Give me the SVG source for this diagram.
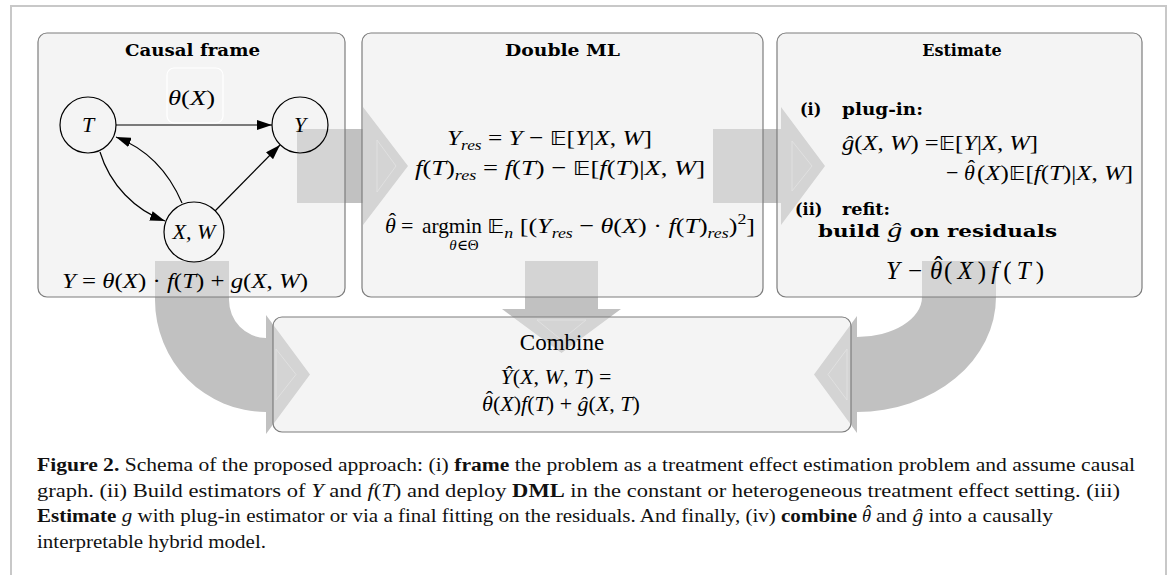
<svg xmlns="http://www.w3.org/2000/svg" width="1170" height="575" viewBox="0 0 1170 575">
<style>
.m{font-family:"Liberation Serif","DejaVu Serif",serif;font-size:22px;fill:#000}
.i{font-style:italic}
.sub{font-size:15px}
.bb{font-family:"DejaVu Sans","DejaVu Serif",sans-serif;font-size:20px}
.hat{font-family:"Liberation Serif","DejaVu Serif",serif;font-size:22px;fill:#000;text-anchor:middle}
.t{font-family:"DejaVu Serif","Liberation Serif",serif;font-weight:bold;font-size:16px;fill:#000}
.cap{font-family:"Liberation Serif","DejaVu Serif",serif;font-size:18.5px;fill:#111}
.b{font-weight:bold}
.big{font-size:25px}
.box{fill:#e8e8e8;fill-opacity:0.48;stroke:#7d7d7d;stroke-width:1.2}
.band{fill:#c1c1c1}
.inner{fill:none;stroke:#dadada;stroke-width:1}
.node{fill:none;stroke:#000;stroke-width:1.2}
.edge{fill:none;stroke:#000;stroke-width:1.2}
</style>
<defs>
<marker id="ah" markerWidth="15" markerHeight="10" refX="15" refY="5" orient="auto" markerUnits="userSpaceOnUse">
<path d="M0,0 L15,5 L0,10 Z" fill="#000"/>
</marker>
</defs>
<rect width="1170" height="575" fill="#fff"/>
<path d="M11,575 V6 H1166 V575" fill="none" stroke="#c8c8c8" stroke-width="2"/>

<g id="flow-arrows">
<path class="band" d="M297,129 H363 V107 L408,166 L363,225 V203 H297 Z"/>
<path class="band" d="M713,129 H781 V107 L825,166 L781,225 V203 H713 Z"/>
<path class="band" d="M525,261 V309 H502 L561.5,353 L621,309 H598 V261 Z"/>
<path class="band" d="M155,261 V300 A111,112 0 0 0 266,412 V434 L310,374.5 L266,315 V338 A37,38 0 0 1 229,300 V261 Z"/>
<path class="band" d="M996,261 V297 A139,115 0 0 1 857,412 V433 L814,374.5 L857,316 V337 A65,40 0 0 0 922,297 V261 Z"/>
<path class="inner" d="M377,140 L396,166 L377,192 Z"/>
<path class="inner" d="M792,141 L812,166 L792,191 Z"/>
<path class="inner" d="M537,320 L586,320 L561.5,340 Z"/>
<path class="inner" d="M276,349 L296,374.5 L276,400 Z"/>
<path class="inner" d="M847,349 L828,374.5 L847,400 Z"/>
</g>

<g id="causal-frame">
<rect class="box" x="38" y="33" width="307" height="264" rx="9"/>
<text class="t" x="125" y="56" textLength="135" lengthAdjust="spacingAndGlyphs">Causal frame</text>
<rect x="167" y="68" width="56" height="55" rx="7" fill="none" stroke="#ffffff" stroke-width="1.2"/>
<text class="m" x="168" y="105" textLength="47" lengthAdjust="spacingAndGlyphs"><tspan class="i">θ</tspan>(<tspan class="i">X</tspan>)</text>
<text class="m" x="62" y="288" textLength="246" lengthAdjust="spacingAndGlyphs"><tspan class="i">Y</tspan> = <tspan class="i">θ</tspan>(<tspan class="i">X</tspan>) · <tspan class="i">f</tspan>(<tspan class="i">T</tspan>) + <tspan class="i">g</tspan>(<tspan class="i">X</tspan>, <tspan class="i">W</tspan>)</text>
</g>

<g id="node-T">
<circle class="node" cx="88" cy="125" r="28"/>
<text class="m i" x="88" y="132" text-anchor="middle">T</text>
</g>
<g id="node-Y">
<circle class="node" cx="300" cy="125" r="28"/>
<text class="m i" x="300" y="132" text-anchor="middle">Y</text>
</g>
<g id="node-XW">
<circle class="node" cx="194" cy="232" r="30"/>
<text class="m i" x="194" y="239" text-anchor="middle">X, W</text>
</g>

<g id="edges">
<line class="edge" x1="116" y1="125" x2="272" y2="125" marker-end="url(#ah)"/>
<line class="edge" x1="215" y1="211" x2="280" y2="145" marker-end="url(#ah)"/>
<path class="edge" d="M100,152 C110,185 135,210 165,221" marker-end="url(#ah)"/>
<path class="edge" d="M182,203 C170,175 150,150 116,137" marker-end="url(#ah)"/>
</g>

<g id="double-ml">
<rect class="box" x="362" y="33" width="401" height="264" rx="9"/>
<text class="t" x="505" y="56" textLength="115" lengthAdjust="spacingAndGlyphs">Double ML</text>
<text class="m" x="447" y="145" textLength="205" lengthAdjust="spacingAndGlyphs"><tspan class="i">Y</tspan><tspan class="i sub" dy="5">res</tspan><tspan dy="-5"> = </tspan><tspan class="i">Y</tspan> − <tspan class="bb">𝔼</tspan>[<tspan class="i">Y</tspan>|<tspan class="i">X</tspan>, <tspan class="i">W</tspan>]</text>
<text class="m" x="415" y="175" textLength="290" lengthAdjust="spacingAndGlyphs"><tspan class="i">f</tspan>(<tspan class="i">T</tspan>)<tspan class="i sub" dy="5">res</tspan><tspan dy="-5"> = </tspan><tspan class="i">f</tspan>(<tspan class="i">T</tspan>) − <tspan class="bb">𝔼</tspan>[<tspan class="i">f</tspan>(<tspan class="i">T</tspan>)|<tspan class="i">X</tspan>, <tspan class="i">W</tspan>]</text>
<text class="m i" x="385" y="233">θ</text>
<text class="hat" x="392.5" y="228">ˆ</text>
<text class="m" x="401" y="233">=</text>
<text class="m" x="422" y="233" textLength="60" lengthAdjust="spacingAndGlyphs">argmin</text>
<text class="m" x="464" y="250" text-anchor="middle" style="font-size:15px"><tspan class="i">θ</tspan>∈Θ</text>
<text class="m" x="487" y="233" textLength="268" lengthAdjust="spacingAndGlyphs"><tspan class="bb">𝔼</tspan><tspan class="i sub" dy="5">n</tspan><tspan dy="-5"> [(</tspan><tspan class="i">Y</tspan><tspan class="i sub" dy="5">res</tspan><tspan dy="-5"> − </tspan><tspan class="i">θ</tspan>(<tspan class="i">X</tspan>) · <tspan class="i">f</tspan>(<tspan class="i">T</tspan>)<tspan class="i sub" dy="5">res</tspan><tspan dy="-5">)</tspan><tspan class="sub" dy="-9">2</tspan><tspan dy="9">]</tspan></text>
</g>

<g id="estimate">
<rect class="box" x="777" y="33" width="365" height="264" rx="9"/>
<text class="t" x="962" y="56" text-anchor="middle">Estimate</text>
<text class="t" x="800" y="115">(i)</text>
<text class="t" x="842" y="115" textLength="81" lengthAdjust="spacingAndGlyphs">plug-in:</text>
<text class="m" x="842" y="150" textLength="196" lengthAdjust="spacingAndGlyphs"><tspan class="i">ĝ</tspan>(<tspan class="i">X</tspan>, <tspan class="i">W</tspan>) =<tspan class="bb">𝔼</tspan>[<tspan class="i">Y</tspan>|<tspan class="i">X</tspan>, <tspan class="i">W</tspan>]</text>
<text class="m" x="946" y="180">−</text>
<text class="m i" x="964" y="180">θ</text>
<text class="hat" x="971.5" y="175">ˆ</text>
<text class="m" x="977" y="180" textLength="156" lengthAdjust="spacingAndGlyphs">(<tspan class="i">X</tspan>)<tspan class="bb">𝔼</tspan>[<tspan class="i">f</tspan>(<tspan class="i">T</tspan>)|<tspan class="i">X</tspan>, <tspan class="i">W</tspan>]</text>
<text class="t" x="795" y="215">(ii)</text>
<text class="t" x="842" y="215" textLength="48" lengthAdjust="spacingAndGlyphs">refit:</text>
<text class="t" x="818" y="237" textLength="239" lengthAdjust="spacingAndGlyphs">build <tspan class="m i" font-weight="normal">ĝ</tspan> on residuals</text>
<text class="m i big" x="886" y="279">Y</text>
<text class="m big" x="908" y="279">−</text>
<text class="m i big" x="930" y="279">θ</text>
<text class="hat big" x="938.5" y="274">ˆ</text>
<text class="m big" x="944" y="279" textLength="100" lengthAdjust="spacing">(<tspan class="i">X</tspan>)<tspan class="i">f</tspan>(<tspan class="i">T</tspan>)</text>
</g>

<g id="combine">
<rect class="box" x="273" y="317" width="578" height="115" rx="9"/>
<text class="m" x="562" y="350" text-anchor="middle" style="font-size:23px">Combine</text>
<text class="m" x="556" y="384" text-anchor="middle"><tspan class="i">Ŷ</tspan>(<tspan class="i">X</tspan>, <tspan class="i">W</tspan>, <tspan class="i">T</tspan>)  =</text>
<text class="m i" x="482" y="411">θ</text>
<text class="hat" x="489.5" y="406">ˆ</text>
<text class="m" x="493" y="411">(<tspan class="i">X</tspan>)<tspan class="i">f</tspan>(<tspan class="i">T</tspan>) + <tspan class="i">ĝ</tspan>(<tspan class="i">X</tspan>, <tspan class="i">T</tspan>)</text>
</g>

<g id="caption">
<text class="cap" x="37" y="471" textLength="1098" lengthAdjust="spacingAndGlyphs"><tspan class="b">Figure 2.</tspan> Schema of the proposed approach: (i) <tspan class="b">frame</tspan> the problem as a treatment effect estimation problem and assume causal</text>
<text class="cap" x="37" y="496.5" textLength="1083" lengthAdjust="spacingAndGlyphs">graph. (ii) Build estimators of <tspan class="i">Y</tspan> and <tspan class="i">f</tspan>(<tspan class="i">T</tspan>) and deploy <tspan class="b">DML</tspan> in the constant or heterogeneous treatment effect setting. (iii)</text>
<text class="cap" x="37" y="522" textLength="820" lengthAdjust="spacingAndGlyphs"><tspan class="b">Estimate</tspan> <tspan class="i">g</tspan> with plug-in estimator or via a final fitting on the residuals. And finally, (iv) <tspan class="b">combine</tspan></text>
<text class="cap i" x="862" y="522">θ</text>
<text class="cap" x="868.5" y="517.5" text-anchor="middle">ˆ</text>
<text class="cap" x="876" y="522" textLength="177" lengthAdjust="spacingAndGlyphs">and <tspan class="i">ĝ</tspan> into a causally</text>
<text class="cap" x="37" y="547.5" textLength="229" lengthAdjust="spacingAndGlyphs">interpretable hybrid model.</text>
</g>
</svg>
